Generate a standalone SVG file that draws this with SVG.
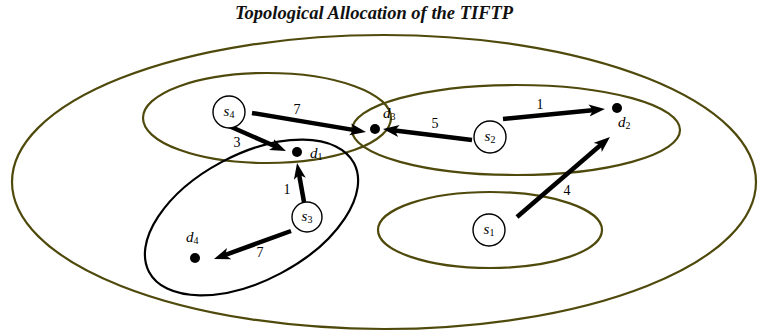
<svg xmlns="http://www.w3.org/2000/svg" width="765" height="335" viewBox="0 0 765 335">
<style>
.reg{fill:none;stroke:#4f4a0c;stroke-width:2.2}
.node{fill:#fff;stroke:#000;stroke-width:1.4}
.dot{fill:#000}
text{font-family:'Liberation Serif','DejaVu Serif','Times New Roman',serif}
.lbl{font-style:italic;font-size:15px;fill:#000}
.sub{font-size:10px;font-style:normal}
.num{font-size:14px;fill:#000}
.edge{stroke:#000;stroke-width:4.5;fill:none;marker-end:url(#ah)}
.title{font-style:italic;font-weight:bold;font-size:18.5px;fill:#111}
</style>
<defs>
<marker id="ah" markerUnits="userSpaceOnUse" markerWidth="18" markerHeight="14" refX="6" refY="6" orient="auto" viewBox="0 0 18 12">
<path d="M0,0 L16,6 L0,12 L4,6 z" fill="#000"/>
</marker>
</defs>
<rect width="765" height="335" fill="#fff"/>
<text class="title" x="374" y="19" text-anchor="middle">Topological Allocation of the TIFTP</text>
<g id="regions">
<ellipse class="reg" cx="384" cy="182" rx="372" ry="147"/>
<ellipse class="reg" cx="267" cy="118" rx="124" ry="45"/>
<ellipse class="reg" cx="516" cy="130" rx="164" ry="45"/>
<ellipse class="reg" cx="490" cy="230" rx="112" ry="38"/>
<ellipse cx="251.5" cy="217.5" rx="116" ry="63" transform="rotate(-28 251.5 217.5)" fill="none" stroke="#000" stroke-width="2.2"/>
</g>
<g id="connectors">
<path class="edge" d="M252,113 L356.1,130.4"/>
<text class="num" x="297" y="114" text-anchor="middle">7</text>
<path class="edge" d="M229,126 L276.8,147"/>
<text class="num" x="237" y="147" text-anchor="middle">3</text>
<path class="edge" d="M304,202 L298.8,172.9"/>
<text class="num" x="287" y="194" text-anchor="middle">1</text>
<path class="edge" d="M291,231 L223.4,255.6"/>
<text class="num" x="260" y="257" text-anchor="middle">7</text>
<path class="edge" d="M472,140 L392.9,130.2"/>
<text class="num" x="435" y="128" text-anchor="middle">5</text>
<path class="edge" d="M503,119 L595,110"/>
<text class="num" x="540" y="109" text-anchor="middle">1</text>
<path class="edge" d="M517,217 L602.4,143.5"/>
<text class="num" x="567" y="195" text-anchor="middle">4</text>
</g>
<g id="s4"><circle class="node" cx="229" cy="112" r="16"/><text class="lbl" x="229" y="116" text-anchor="middle">s<tspan class="sub" dy="2">4</tspan></text></g>
<g id="s2"><circle class="node" cx="490" cy="137" r="16"/><text class="lbl" x="490" y="141" text-anchor="middle">s<tspan class="sub" dy="2">2</tspan></text></g>
<g id="s3"><circle class="node" cx="307" cy="217" r="15"/><text class="lbl" x="307" y="221" text-anchor="middle">s<tspan class="sub" dy="2">3</tspan></text></g>
<g id="s1"><circle class="node" cx="489" cy="230" r="16"/><text class="lbl" x="489" y="234" text-anchor="middle">s<tspan class="sub" dy="2">1</tspan></text></g>
<g id="d1"><circle class="dot" cx="297" cy="152" r="5"/><text class="lbl" x="310" y="158">d<tspan class="sub" dy="2">1</tspan></text></g>
<g id="d3"><circle class="dot" cx="375" cy="129" r="5"/><text class="lbl" x="383" y="118">d<tspan class="sub" dy="2">3</tspan></text></g>
<g id="d2"><circle class="dot" cx="617" cy="108" r="5"/><text class="lbl" x="618" y="127">d<tspan class="sub" dy="2">2</tspan></text></g>
<g id="d4"><circle class="dot" cx="195" cy="258" r="5"/><text class="lbl" x="186" y="242">d<tspan class="sub" dy="2">4</tspan></text></g>
</svg>
